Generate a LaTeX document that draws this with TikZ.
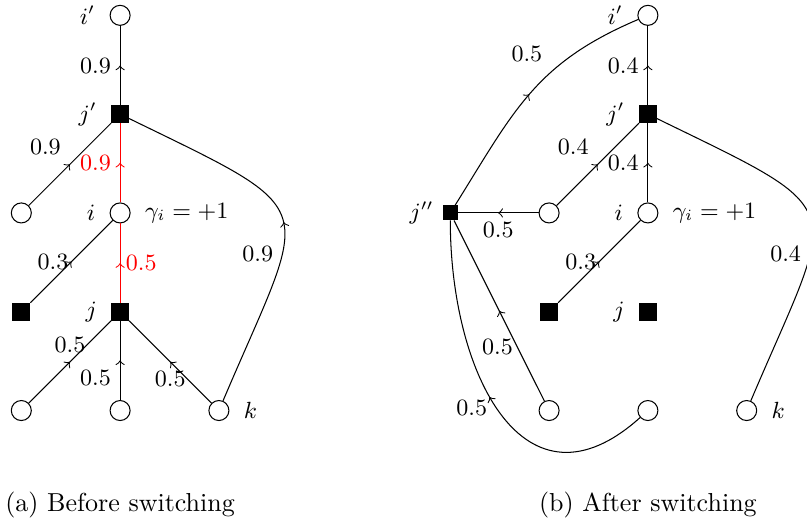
\documentclass[tikz,border=0pt]{standalone}
\usepackage{amsmath}
\usepackage{xcolor}
\usepackage{tikz}
\usetikzlibrary{shapes, arrows, positioning, decorations.markings}
\tikzstyle{var} = [draw, circle, fill=white, minimum size=7.7pt, inner sep=0pt]
\tikzstyle{check} = [draw, rectangle, fill=black, minimum size=6.5pt, inner sep=0pt]
\tikzstyle{caption} = [font=\normalsize]

\begin{document}
\begin{tikzpicture}[node distance=38pt, on grid, font=\small, label distance=2pt]
        % 样式
        \tikzstyle{flow} = [postaction={decorate}, decoration={markings, mark=at position 0.5 with {\arrow{to}}}]
        \tikzstyle{moved} = [flow, red]

        \useasboundingbox (-46.2pt,-120pt) rectangle (264.2pt,81.9pt);

        % (a) 切换前
        \node [var, label=left:$i$, label={right:$\gamma_i = +1$}] (ia) {};
        \node [check, above=of ia, label=left:$j'$] (jpa) {};
        \node [var, above=of jpa, label=left:$i'$] (ipa) {};
        \node [var, left=of ia] (ca) {};
        \node [check, below=of ia, label=left:$j$] (ja) {};
        \node [check, left=of ja] (sa) {};
        \node [var, below=of sa] (ua) {};
        \node [var, below=of ja] (va) {};
        \node [var, right=of va, label=right:$k$] (ka) {};
        \node [caption, below=36.5pt of va] (capa) {(a) Before switching};

        \draw [flow] (jpa) -- node [left] {0.9} (ipa);
        \draw [moved] (ia) -- node [left] {0.9} (jpa);
        \draw [flow] (ca) -- node [above left] {0.9} (jpa);
        \draw [flow] (sa) -- node [left, inner sep=1pt] {0.3} (ia);
        \draw [moved] (ja) -- node [right, inner sep=2pt] {0.5} (ia);
        \draw [flow] (ua) -- node [above] {0.5} (ja);
        \draw [flow] (va) -- node [below left] {0.5} (ja);
        \draw [flow] (ka) -- node [below] {0.5} (ja);
        \draw [flow] (ka) to [out=67, in=-26, looseness=1.9] node [left, pos=0.35] {0.9} (jpa);

        % (b) 切换后
        \node [var, right=203pt of ia, label=left:$i$, label={right:$\gamma_i = +1$}] (ib) {};
        \node [check, above=of ib, label=left:$j'$] (jpb) {};
        \node [var, above=of jpb, label=left:$i'$] (ipb) {};
        \node [var, left=of ib] (cb) {};
        \node [check, left=of cb, minimum size=5.4pt, label={[label distance=0pt]left:$j''$}] (jppb) {};
        \node [check, below=of ib, label=left:$j$] (jb) {};
        \node [check, left=of jb] (sb) {};
        \node [var, below=of sb] (ub) {};
        \node [var, below=of jb] (vb) {};
        \node [var, right=of vb, label=right:$k$] (kb) {};
        \node [caption, below=36.5pt of vb] (capb) {(b) After switching};

        \draw [flow] (jpb) -- node [left] {0.4} (ipb);
        \draw [flow] (ib) -- node [left] {0.4} (jpb);
        \draw [flow] (cb) -- node [above left] {0.4} (jpb);
        \draw [flow] (cb) -- node [below] {0.5} (jppb);
        \draw [flow] (jppb) to [out=58, in=-157, looseness=1.1] node [above left, pos=0.63] {0.5} (ipb);
        \draw [flow] (sb) -- node [left, inner sep=1pt] {0.3} (ib);
        \draw [flow] (ub) -- node [left, pos=0.3, inner sep=1.5pt] {0.5} (jppb);
        \draw [flow] (vb) to [out=-138, in=-90, looseness=1.45] node [left, pos=0.53] {0.5} (jppb);
        \draw [flow] (kb) to [out=67, in=-26, looseness=1.9] node [left, pos=0.35] {0.4} (jpb);
\end{tikzpicture}
\end{document}
